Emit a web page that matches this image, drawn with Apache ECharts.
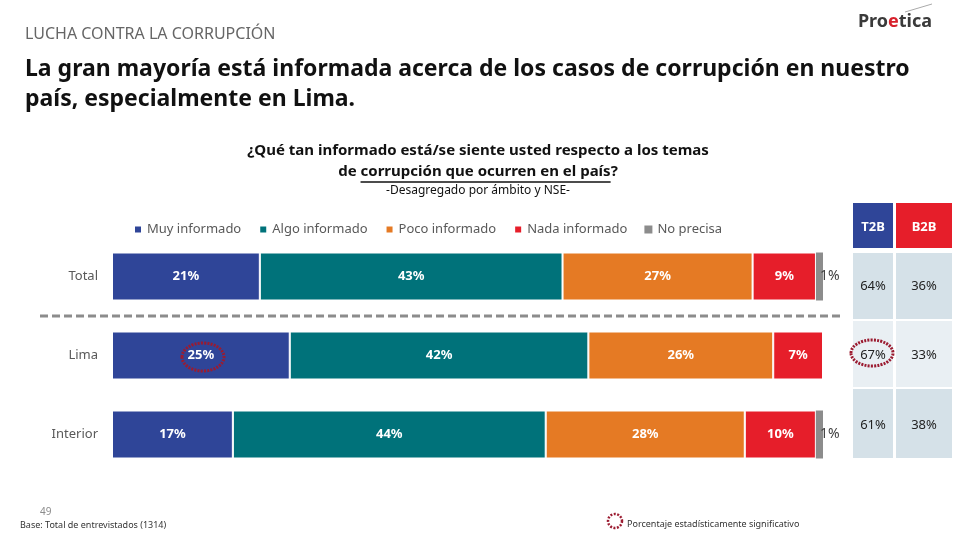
<!DOCTYPE html>
<html><head><meta charset="utf-8">
<script src="https://cdn.jsdelivr.net/npm/echarts@6/dist/echarts.min.js"></script>
<style>html,body{margin:0;padding:0;background:#fff}#c{width:960px;height:540px}</style>
</head><body><div id="c"></div>
<script>
var categories = ['Total', 'Lima', 'Interior'];
var seriesNames = ['Muy informado', 'Algo informado', 'Poco informado', 'Nada informado', 'No precisa'];
var muy = [21, 25, 17];
var algo = [43, 42, 44];
var poco = [27, 26, 28];
var nada = [9, 7, 10];
var noPrecisa = [1, 0, 1];
var t2b = ['64%', '67%', '61%'];
var b2b = ['36%', '33%', '38%'];
var tableHeaders = ['T2B', 'B2B'];

var colors = ['#2f4598', '#00727a', '#e57a24', '#e61e2a', '#8c8c8c'];
var FONT = 'Noto Sans';
var rawSeries = [muy, algo, poco, nada, noPrecisa];
var rowSum = categories.map(function (c, i) {
  return rawSeries.reduce(function (s, arr) { return s + arr[i]; }, 0);
});

var series = rawSeries.map(function (arr, k) {
  var isLast = k === rawSeries.length - 1;
  return {
    name: seriesNames[k],
    type: 'bar',
    stack: 'all',
    barWidth: 48,
    itemStyle: { color: colors[k], borderColor: '#fff', borderWidth: isLast ? 0 : 1 },
    label: {
      show: true,
      position: isLast ? 'right' : 'inside',
      distance: -3,
      color: isLast ? '#404040' : '#fff',
      fontWeight: isLast ? 'normal' : 'bold',
      fontSize: isLast ? 14 : 13,
      fontFamily: FONT,
      formatter: function (p) { return arr[p.dataIndex] ? arr[p.dataIndex] + '%' : ''; }
    },
    data: arr.map(function (v, i) { return v / rowSum[i] * 100; })
  };
});

var measureCtx = document.createElement('canvas').getContext('2d');
function textW(t, font) { measureCtx.font = font; return measureCtx.measureText(t).width; }

// table graphics
var g = [];
var colX = [853, 896], colW = [40, 56];
var rowY = [253, 321, 389], rowH = [66, 66, 69];
var headColors = [colors[0], colors[3]];
tableHeaders.forEach(function (h, j) {
  g.push({ type: 'rect', shape: { x: colX[j], y: 203, width: colW[j], height: 45 }, style: { fill: headColors[j] } });
  g.push({ type: 'text', x: colX[j] + colW[j] / 2, y: 227, style: { text: h, fill: '#fff', font: 'bold 13px ' + FONT, textAlign: 'center', textVerticalAlign: 'middle' } });
});
var tcols = [t2b, b2b];
var textY = [286, 355, 425];
categories.forEach(function (c, i) {
  tcols.forEach(function (col, j) {
    g.push({ type: 'rect', shape: { x: colX[j], y: rowY[i], width: colW[j], height: rowH[i] }, style: { fill: i === 1 ? '#e9eff3' : '#d5e1e8' } });
    g.push({ type: 'text', x: colX[j] + colW[j] / 2, y: textY[i], style: { text: col[i], fill: '#222', font: '13px ' + FONT, textAlign: 'center', textVerticalAlign: 'middle' } });
  });
});

// separator line
g.push({ type: 'line', shape: { x1: 40, y1: 316, x2: 842, y2: 316 }, style: { stroke: '#8c8c8c', lineWidth: 3, lineDash: [8, 4] } });

// significance ellipses
g.push({ type: 'ellipse', shape: { cx: 203, cy: 357, rx: 21, ry: 14 }, style: { fill: 'none', stroke: '#9b1b30', lineWidth: 3, lineDash: [2, 1.2] }, z: 100 });
g.push({ type: 'ellipse', shape: { cx: 872, cy: 353, rx: 21, ry: 13 }, style: { fill: 'none', stroke: '#9b1b30', lineWidth: 3, lineDash: [2, 1.2] }, z: 100 });

// headers
g.push({ type: 'text', x: 25, y: 34, style: { text: 'LUCHA CONTRA LA CORRUPCIÓN', fill: '#666', font: '16px ' + FONT, textVerticalAlign: 'middle' } });
g.push({ type: 'text', x: 25, y: 69, style: { text: 'La gran mayoría está informada acerca de los casos de corrupción en nuestro', fill: '#111', font: 'bold 23px ' + FONT, textVerticalAlign: 'middle' } });
g.push({ type: 'text', x: 25, y: 99, style: { text: 'país, especialmente en Lima.', fill: '#111', font: 'bold 23px ' + FONT, textVerticalAlign: 'middle' } });

var qFont = 'bold 15px ' + FONT;
g.push({ type: 'text', x: 478, y: 151, style: { text: '¿Qué tan informado está/se siente usted respecto a los temas', fill: '#111', font: qFont, textAlign: 'center', textVerticalAlign: 'middle' } });
var p1 = 'de ', p2 = 'corrupción que ocurren en el país', p3 = '?';
var w1 = textW(p1, qFont), w2 = textW(p2, qFont), w3 = textW(p3, qFont);
var startX = 478 - (w1 + w2 + w3) / 2;
g.push({ type: 'text', x: 478, y: 172, style: { text: p1 + p2 + p3, fill: '#111', font: qFont, textAlign: 'center', textVerticalAlign: 'middle' } });
g.push({ type: 'line', shape: { x1: startX + w1, y1: 182, x2: startX + w1 + w2, y2: 182 }, style: { stroke: '#111', lineWidth: 1.3 } });
g.push({ type: 'text', x: 478, y: 191, style: { text: '-Desagregado por ámbito y NSE-', fill: '#111', font: '12px ' + FONT, textAlign: 'center', textVerticalAlign: 'middle' } });

// logo
g.push({ type: 'text', x: 895, y: 22, style: { text: '{a|Pro}{b|e}{a|tica}', textAlign: 'center', textVerticalAlign: 'middle', rich: { a: { font: 'bold 18px ' + FONT, fill: '#3a3a3a' }, b: { font: 'bold 18px ' + FONT, fill: '#d7202b' } } } });
g.push({ type: 'line', shape: { x1: 905, y1: 12, x2: 932, y2: 4 }, style: { stroke: '#aaa', lineWidth: 1 } });

// footer
g.push({ type: 'text', x: 40, y: 512, style: { text: '49', fill: '#8c8c8c', font: '10px ' + FONT, textVerticalAlign: 'middle' } });
g.push({ type: 'text', x: 20, y: 525, style: { text: 'Base: Total de entrevistados (1314)', fill: '#333', font: '9px ' + FONT, textVerticalAlign: 'middle' } });
g.push({ type: 'circle', shape: { cx: 615, cy: 521, r: 7 }, style: { fill: 'none', stroke: '#9b1b30', lineWidth: 2.5, lineDash: [2, 1.5] } });
g.push({ type: 'text', x: 627, y: 524, style: { text: 'Porcentaje estadísticamente significativo', fill: '#333', font: '9px ' + FONT, textVerticalAlign: 'middle' } });

var chart = echarts.init(document.getElementById('c'));
chart.setOption({
  animation: false,
  textStyle: { fontFamily: FONT },
  color: colors,
  legend: {
    left: 128, top: 218,
    icon: 'rect', itemWidth: 8, itemHeight: 8, itemGap: 17,
    textStyle: { color: '#595959', fontSize: 13, fontFamily: FONT },
    data: seriesNames
  },
  grid: { left: 112, top: 237, width: 711, height: 237 },
  xAxis: { type: 'value', min: 0, max: 100, show: false },
  yAxis: {
    type: 'category', data: categories, inverse: true,
    axisLine: { show: false }, axisTick: { show: false },
    axisLabel: { color: '#595959', fontSize: 13, margin: 14, fontFamily: FONT }
  },
  series: series,
  graphic: g
});
</script></body></html>
